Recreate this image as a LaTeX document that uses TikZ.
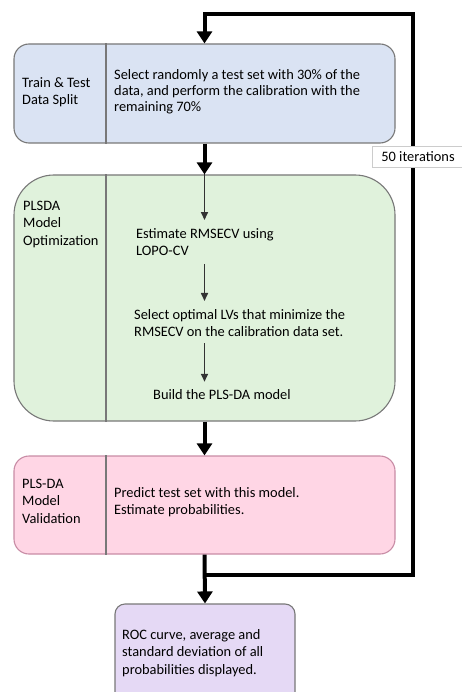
\documentclass[tikz,border=0pt]{standalone}
\usepackage{fontspec}
\setmainfont{Carlito}
\usetikzlibrary{arrows.meta}
\definecolor{splitblue}{RGB}{218,227,243}
\definecolor{optgreen}{RGB}{224,242,220}
\definecolor{valpink}{RGB}{255,214,229}
\definecolor{rocpurple}{RGB}{229,217,245}
\definecolor{boxgray}{RGB}{120,120,120}
\definecolor{pinkedge}{RGB}{200,140,165}
\begin{document}
\begin{tikzpicture}[x=1pt,y=-1pt,font=\fontsize{14.4}{17.5}\selectfont,
  stagebox/.style={draw=boxgray,line width=1.1pt,minimum width=381pt,inner sep=0pt},
  divline/.style={boxgray,line width=1.3pt},
  label/.style={anchor=west,align=left,inner sep=0pt},
  flow/.style={line width=4pt,-{Triangle[width=15pt,length=12pt]}},
  inner/.style={line width=1.6pt,black!80,-{Triangle[width=7pt,length=8pt]}}]
\useasboundingbox (0,0) rectangle (462,692);
% stage boxes
\node[stagebox,fill=splitblue,rounded corners=15pt,minimum height=99pt] (split) at (204.5,93.5) {};
\node[stagebox,fill=optgreen,rounded corners=40pt,minimum height=246pt] (optim) at (204.5,298) {};
\node[stagebox,fill=valpink,draw=pinkedge,rounded corners=15pt,minimum height=98pt] (valid) at (204.5,505) {};
\node[draw=boxgray,line width=1.1pt,fill=rocpurple,rounded corners=10pt,minimum width=180pt,minimum height=100pt] (roc) at (205,654) {};
% dividers
\coordinate (divx) at (106,0);
\draw[divline] (split.north -| divx) -- (split.south -| divx);
\draw[divline] (optim.north -| divx) -- (optim.south -| divx);
\draw[divline] (valid.north -| divx) -- (valid.south -| divx);
% texts
\node[label] (splitname) at (22,92) {Train \& Test\\Data Split};
\node[label,font=\fontsize{14.4}{16}\selectfont] (splittext) at (114,92) {Select randomly a test set with 30\% of the\\data, and perform the calibration with the\\remaining 70\%};
\node[label] (optimname) at (23,224) {PLSDA\\Model\\Optimization};
\node[label] (est) at (136,242) {Estimate RMSECV using\\LOPO-CV};
\node[label] (sel) at (134,323) {Select optimal LVs that minimize the\\RMSECV on the calibration data set.};
\node[label] (build) at (153,395) {Build the PLS-DA model};
\node[label] (validname) at (22,501) {PLS-DA\\Model\\Validation};
\node[label] (validtext) at (114,502) {Predict test set with this model.\\Estimate probabilities.};
\node[label] (roctext) at (122,653) {ROC curve, average and\\standard deviation of all\\probabilities displayed.};
% steps inside optimization
\draw[inner] (optim.north) -- ([yshift=8pt]optim.north |- est.north);
\draw[inner] ([yshift=-8pt]optim.north |- est.south) -- ([yshift=8pt]optim.north |- sel.north);
\draw[inner] ([yshift=-6pt]optim.north |- sel.south) -- ([yshift=8pt]optim.north |- build.north);
% main flow
\draw[flow] (split.south) -- (optim.north);
\draw[flow] (optim.south) -- (valid.north);
\draw[flow] (valid.south) -- (roc.north);
% iteration loop
\coordinate (loopbr) at (413,575);
\coordinate (looptr) at (413,14);
\draw[flow,line join=miter] (valid.south |- loopbr) -- (loopbr) -- (looptr) -- (split.north |- looptr) -- (split.north);
\node[draw=black!20,fill=white,minimum width=92pt,minimum height=21pt,inner sep=0pt] (iter) at (418,157) {50 iterations};
\end{tikzpicture}
\end{document}
